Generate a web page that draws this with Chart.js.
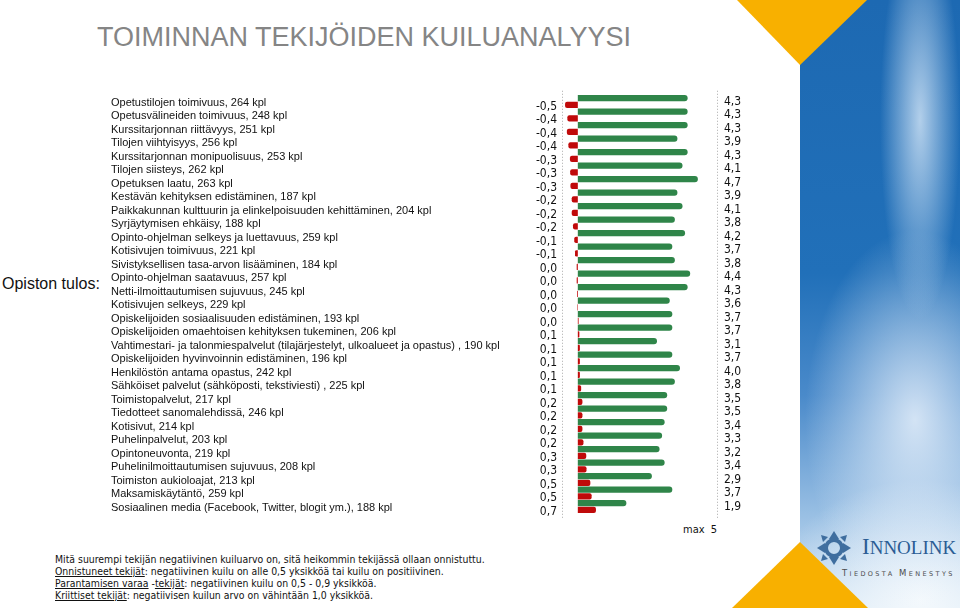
<!DOCTYPE html>
<html>
<head>
<meta charset="utf-8">
<script src="https://cdn.jsdelivr.net/npm/chart.js@4.4.0/dist/chart.umd.min.js"></script>
<style>
  html, body { margin: 0; padding: 0; background: #fff; }
  #page { position: relative; width: 960px; height: 608px; overflow: hidden; font-family: "Liberation Sans", Arial, sans-serif; }
  #sky {
    position: absolute; left: 800px; top: 0; width: 160px; height: 608px;
    background:
      radial-gradient(ellipse 40px 200px at 120px 120px, rgba(215,232,248,0.8), rgba(215,232,248,0) 100%),
      radial-gradient(ellipse 110px 190px at 115px 420px, rgba(232,241,251,0.85), rgba(232,241,251,0) 100%),
      radial-gradient(ellipse 150px 120px at 120px 600px, rgba(246,250,253,0.95), rgba(246,250,253,0) 100%),
      linear-gradient(to bottom, #1d69b2 0%, #2170b9 45%, #4a8aca 65%, #9ac0e4 85%, #d3e5f4 100%);
  }
  .tri { position: absolute; background: #f8b000; }
  #triTop { left: 737px; top: 0; width: 130px; height: 65px; clip-path: polygon(0 0, 100% 0, 48.5% 100%); }
  #triBot { left: 732px; top: 542px; width: 136px; height: 66px; clip-path: polygon(50% 0, 100% 100%, 0 100%); }
  #title { position: absolute; left: 97px; top: 22px; font-size: 27px; line-height: 30px; color: #858585; white-space: nowrap; }
  #tulos { position: absolute; left: 2px; top: 275px; font-size: 16px; line-height: 18px; color: #111; white-space: nowrap; }
  #notes { position: absolute; left: 55px; top: 553px; font-family: "DejaVu Sans Condensed", "DejaVu Sans", sans-serif; font-size: 10.4px; line-height: 12px; color: #111; white-space: nowrap; }
  #max { position: absolute; left: 683px; top: 523px; font-family: "DejaVu Sans Condensed", "DejaVu Sans", sans-serif; font-size: 11px; line-height: 14px; color: #111; white-space: pre; }
  #logo { position: absolute; left: 816px; top: 530px; }
  #brand { position: absolute; left: 862px; top: 536px; font-family: "Liberation Serif", "DejaVu Serif", serif; color: #2b5d94; white-space: nowrap; line-height: 22px; }
  #brand .big { font-size: 23px; }
  #brand .small { font-size: 19px; }
  #motto { position: absolute; left: 842px; top: 568px; font-family: "DejaVu Sans", sans-serif; font-size: 6.5px; letter-spacing: 2.4px; color: #4d4d4d; white-space: nowrap; }
  #motto .cap { font-size: 8.5px; }
  canvas { position: absolute; left: 0; top: 0; }
</style>
</head>
<body>
<div id="page">
  <div id="sky"></div>
  <div class="tri" id="triTop"></div>
  <div class="tri" id="triBot"></div>
  <div id="title">TOIMINNAN TEKIJÖIDEN KUILUANALYYSI</div>
  <div id="tulos">Opiston tulos:</div>
  <div id="max">max  5</div>
  <div id="notes">
    Mitä suurempi tekijän negatiivinen kuiluarvo on, sitä heikommin tekijässä ollaan onnistuttu.<br>
    <u>Onnistuneet tekijät</u>: negatiivinen kuilu on alle 0,5 yksikköä tai kuilu on positiivinen.<br>
    <u>Parantamisen varaa</u> -<u>tekijät</u>: negatiivinen kuilu on 0,5 - 0,9 yksikköä.<br>
    <u>Kriittiset tekijät</u>: negatiivisen kuilun arvo on vähintään 1,0 yksikköä.
  </div>
  <svg id="logo" width="36" height="36" viewBox="0 0 36 36">
    <g fill="#3f6e9f">
      <circle cx="18" cy="18" r="8" fill="none" stroke="#3f6e9f" stroke-width="4"/>
      <path d="M13 9 L18 1 L23 9 Z"/>
      <path d="M13 27 L18 35 L23 27 Z"/>
      <path d="M9 13 L1 18 L9 23 Z"/>
      <path d="M27 13 L35 18 L27 23 Z"/>
      <path d="M5 5 L12 7 L7 12 Z"/>
      <path d="M31 5 L24 7 L29 12 Z"/>
      <path d="M5 31 L12 29 L7 24 Z"/>
      <path d="M31 31 L24 29 L29 24 Z"/>
    </g>
  </svg>
  <div id="brand"><span class="big">I</span><span class="small">NNOLINK</span></div>
  <div id="motto"><span class="cap">T</span>IEDOSTA <span class="cap">M</span>ENESTYS</div>
  <canvas id="mainChart" width="960" height="608"></canvas>
</div>

<script>
const categories = [
  "Opetustilojen toimivuus, 264 kpl",
  "Opetusvälineiden toimivuus, 248 kpl",
  "Kurssitarjonnan riittävyys, 251 kpl",
  "Tilojen viihtyisyys, 256 kpl",
  "Kurssitarjonnan monipuolisuus, 253 kpl",
  "Tilojen siisteys, 262 kpl",
  "Opetuksen laatu, 263 kpl",
  "Kestävän kehityksen edistäminen, 187 kpl",
  "Paikkakunnan kulttuurin ja elinkelpoisuuden kehittäminen, 204 kpl",
  "Syrjäytymisen ehkäisy, 188 kpl",
  "Opinto-ohjelman selkeys ja luettavuus, 259 kpl",
  "Kotisivujen toimivuus, 221 kpl",
  "Sivistyksellisen tasa-arvon lisääminen, 184 kpl",
  "Opinto-ohjelman saatavuus, 257 kpl",
  "Netti-ilmoittautumisen sujuvuus, 245 kpl",
  "Kotisivujen selkeys, 229 kpl",
  "Opiskelijoiden sosiaalisuuden edistäminen, 193 kpl",
  "Opiskelijoiden omaehtoisen kehityksen tukeminen, 206 kpl",
  "Vahtimestari- ja talonmiespalvelut (tilajärjestelyt, ulkoalueet ja opastus) , 190 kpl",
  "Opiskelijoiden hyvinvoinnin edistäminen, 196 kpl",
  "Henkilöstön antama opastus, 242 kpl",
  "Sähköiset palvelut (sähköposti, tekstiviesti) , 225 kpl",
  "Toimistopalvelut, 217 kpl",
  "Tiedotteet sanomalehdissä, 246 kpl",
  "Kotisivut, 214 kpl",
  "Puhelinpalvelut, 203 kpl",
  "Opintoneuvonta, 219 kpl",
  "Puhelinilmoittautumisen sujuvuus, 208 kpl",
  "Toimiston aukioloajat, 213 kpl",
  "Maksamiskäytäntö, 259 kpl",
  "Sosiaalinen media (Facebook, Twitter, blogit ym.), 188 kpl"
];

// kuilu (gap) per tekijä
const gaps = [
  -0.50, -0.41, -0.43, -0.37, -0.31, -0.30, -0.29, -0.24, -0.24, -0.19,
  -0.14, -0.11, -0.045, -0.045, -0.03, -0.02, 0.03, 0.06, 0.08, 0.08,
  0.08, 0.13, 0.18, 0.18, 0.18, 0.22, 0.33, 0.34, 0.49, 0.54, 0.71
];

// opiston tulos
const scores = [
  4.3, 4.3, 4.3, 3.9, 4.3, 4.1, 4.7, 3.9, 4.1, 3.8,
  4.2, 3.7, 3.8, 4.4, 4.3, 3.6, 3.7, 3.7, 3.1, 3.7,
  4.0, 3.8, 3.5, 3.5, 3.4, 3.3, 3.2, 3.4, 2.9, 3.7, 1.9
];

const X_MIN = -0.62;
const X_MAX = 5.45;

function fmt(v) {
  let r = Math.round(v * 10) / 10;
  if (r === 0) r = 0;
  return r.toFixed(1).replace('.', ',');
}

const columnText = {
  id: 'columnText',
  afterDatasetsDraw(chart) {
    const { ctx, chartArea, scales: { y } } = chart;
    ctx.save();

    // dotted frame lines
    ctx.strokeStyle = '#a8a8a8';
    ctx.lineWidth = 1;
    ctx.setLineDash([1, 2]);
    [chartArea.left, chartArea.right].forEach(x => {
      const px = Math.round(x) + 0.5;
      ctx.beginPath();
      ctx.moveTo(px, chartArea.top - 4);
      ctx.lineTo(px, chartArea.bottom + 6);
      ctx.stroke();
    });
    ctx.setLineDash([]);

    ctx.textBaseline = 'middle';
    ctx.fillStyle = '#111';
    categories.forEach((name, i) => {
      const py = y.getPixelForValue(i);
      ctx.font = '11px "Liberation Sans", Arial, sans-serif';
      ctx.textAlign = 'left';
      ctx.fillText(name, 111, py + 1);

      ctx.font = '12px "DejaVu Sans Condensed", "DejaVu Sans", sans-serif';
      ctx.textAlign = 'right';
      ctx.fillText(fmt(gaps[i]), chartArea.left - 5, py + 5);
      ctx.textAlign = 'left';
      ctx.fillText(fmt(scores[i]), chartArea.right + 7, py);
    });
    ctx.restore();
  }
};

const ctx = document.getElementById('mainChart').getContext('2d');
new Chart(ctx, {
  type: 'bar',
  data: {
    labels: categories,
    datasets: [
      {
        label: 'Tulos',
        data: scores,
        backgroundColor: '#2f8549',
        borderRadius: 3,
        barPercentage: 0.95,
        categoryPercentage: 1
      },
      {
        label: 'Kuilu',
        data: gaps,
        backgroundColor: '#c00a0a',
        borderRadius: 2,
        barPercentage: 0.95,
        categoryPercentage: 1
      }
    ]
  },
  options: {
    indexAxis: 'y',
    responsive: false,
    animation: false,
    layout: { padding: { left: 562, right: 243, top: 94.75, bottom: 94.75 } },
    scales: {
      x: { type: 'linear', min: X_MIN, max: X_MAX, display: false },
      y: { display: false }
    },
    plugins: { legend: { display: false }, tooltip: { enabled: false } }
  },
  plugins: [columnText]
});
</script>
</body>
</html>
